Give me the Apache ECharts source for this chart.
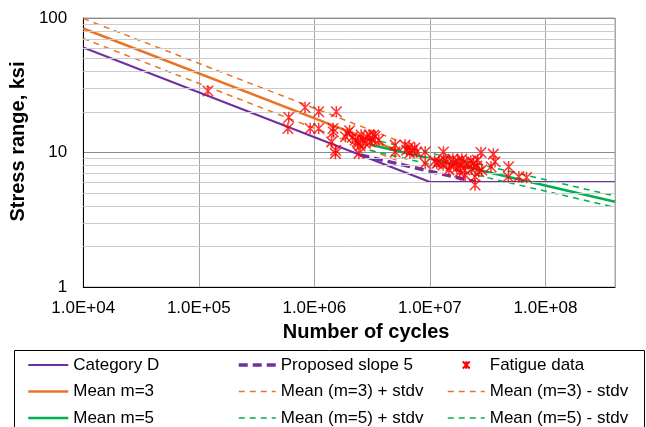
<!DOCTYPE html>
<html>
<head>
<meta charset="utf-8">
<script src="https://cdn.jsdelivr.net/npm/echarts@6/dist/echarts.min.js"></script>
<style>html,body{margin:0;padding:0;background:#fff;}#c{width:646px;height:427px;}</style>
</head>
<body>
<div id="c"></div>
<script>
// ---- data ----
var categoryD = [[1e4, 60.4], [1e7, 6.04], [4e8, 6.04]];
var proposedSlope5 = [[2.5e6, 9.58], [2.5e7, 6.04]];
var meanM3 = [[1e4, 83.6], [5.7e6, 10.06]];
var meanM3Plus = [[1e4, 99.2], [5.7e6, 11.94]];
var meanM3Minus = [[1e4, 70.4], [5.7e6, 8.47]];
var meanM5 = [[3e6, 11.48], [4e8, 4.31]];
var meanM5Plus = [[3e6, 12.65], [4e8, 4.75]];
var meanM5Minus = [[3e6, 10.4], [4e8, 3.91]];
var fatigueN = [1.2e5, 8.3e5, 6.0e5, 1.09e6, 1.55e6, 5.9e5, 9.2e5, 1.09e6, 1.45e6, 1.46e6,
  2.02e6, 1.41e6, 1.53e6, 1.52e6, 1.86e6, 2.13e6, 2.26e6, 2.39e6, 2.49e6, 2.65e6,
  2.86e6, 2.98e6, 3.16e6, 2.43e6, 2.35e6, 2.75e6, 3.36e6, 5.0e6, 5.0e6, 6.1e6,
  6.6e6, 7.0e6, 7.4e6, 6.7e6, 6.3e6, 7.7e6, 9.1e6, 1.31e7, 9.1e6, 1.15e7,
  1.2e7, 1.3e7, 1.4e7, 1.52e7, 1.61e7, 1.74e7, 1.85e7, 1.96e7, 2.13e7, 2.26e7,
  2.39e7, 2.54e7, 1.46e7, 1.71e7, 2.0e7, 2.3e7, 1.35e7, 1.89e7, 2.59e7, 1.58e7,
  1.81e7, 1.1e7, 2.65e7, 2.02e7, 2.46e7, 2.46e7, 2.77e7, 3.54e7, 3.66e7, 3.38e7,
  4.8e7, 4.77e7, 5.89e7, 6.86e7, 2.81e7, 1.93e6, 2.54e6, 3.04e6, 3.61e6, 3.27e6];
var fatigueS = [28.7, 21.6, 18.2, 20.1, 20.1, 15.1, 15.1, 15.1, 15.1, 14.2,
  14.5, 12.0, 10.4, 9.85, 13.1, 13.0, 12.4, 11.7, 11.2, 12.4,
  13.0, 13.5, 12.4, 9.85, 12.0, 11.7, 13.2, 11.35, 10.1, 11.35,
  11.0, 10.4, 10.8, 9.9, 10.4, 10.1, 10.1, 10.1, 8.30, 8.30,
  8.49, 8.06, 8.49, 7.92, 8.34, 8.63, 8.06, 8.49, 8.20, 8.63,
  8.34, 7.92, 7.40, 7.66, 7.40, 7.53, 8.78, 8.93, 8.78, 8.93,
  7.15, 8.63, 7.19, 6.79, 6.60, 5.73, 10.0, 9.73, 8.53, 7.83,
  7.83, 6.60, 6.60, 6.51, 7.40, 13.9, 13.5, 11.95, 12.4, 13.5];
var xTickLabels = ['1.0E+04', '1.0E+05', '1.0E+06', '1.0E+07', '1.0E+08'];
var minorGridValues = [2, 3, 4, 5, 6, 7, 8, 9, 20, 30, 40, 50, 60, 70, 80, 90];

// ---- chart ----
var FONT = 'Liberation Sans, Arial, sans-serif';
var PURPLE = '#7030A0', ORANGE = '#EB7424', GREEN = '#00B050', RED = '#FF0000';
var STAR = 'path://M0,0L0,0M20,20L20,20M5,5L15,15M15,5L5,15M10,4.5L10,15.5';

var fatigue = fatigueN.map(function (n, i) { return [n, fatigueS[i]]; });

function lineSeries(name, data, color, width, type, z) {
  return {
    name: name, type: 'line', data: data, symbol: 'none', showSymbol: false,
    lineStyle: { color: color, width: width, type: type },
    itemStyle: { color: color }, z: z, silent: true
  };
}

var chart = echarts.init(document.getElementById('c'), null, { renderer: 'canvas' });
var legendBase = {
  orient: 'vertical', top: 350, height: 120, itemHeight: 14, itemGap: 6.5, selectedMode: false,
  itemStyle: { opacity: 0 },
  lineStyle: { width: 'inherit' },
  textStyle: { fontSize: 17, lineHeight: 20, fontFamily: FONT, color: '#000' }
};
chart.setOption({
  animation: false,
  grid: { left: 80, right: 31, top: 18, bottom: 140, show: true, borderColor: '#a6a6a6', borderWidth: 1 },
  xAxis: {
    type: 'log', logBase: 10, min: 1e4, max: 4e8, splitNumber: 5,
    name: 'Number of cycles', nameLocation: 'middle', nameGap: 35,
    nameTextStyle: { fontSize: 20, fontWeight: 'bold', fontFamily: FONT, color: '#000', padding: [0, 0, 0, 34] },
    axisLine: { show: true, lineStyle: { color: '#000', width: 1 } },
    axisTick: { show: false },
    axisLabel: {
      fontSize: 17, fontFamily: FONT, color: '#000', margin: 13,
      formatter: function (v) {
        var e = Math.log10(v), r = Math.round(e);
        if (Math.abs(e - r) > 1e-6) return '';
        return xTickLabels[r - 4] || '';
      }
    },
    splitLine: { show: true, lineStyle: { color: '#a6a6a6', width: 1 } }
  },
  yAxis: {
    type: 'log', logBase: 10, min: 1, max: 100,
    name: 'Stress range, ksi', nameLocation: 'middle', nameGap: 45,
    nameTextStyle: { fontSize: 20, fontWeight: 'bold', fontFamily: FONT, color: '#000', padding: [0, 0, 0, 22] },
    axisLine: { show: true, lineStyle: { color: '#000', width: 1 } },
    axisTick: { show: false },
    axisLabel: { fontSize: 17, fontFamily: FONT, color: '#000', margin: 16 },
    splitLine: { show: true, lineStyle: { color: '#8c8c8c', width: 1 } }
  },
  legend: [
    Object.assign({}, legendBase, { left: 22, itemWidth: 40, data: ['Category D', 'Mean m=3', 'Mean m=5'] }),
    Object.assign({}, legendBase, { left: 232, itemWidth: 37, data: ['Proposed slope 5', 'Mean (m=3) + stdv', 'Mean (m=5) + stdv'] }),
    Object.assign({}, legendBase, { left: 442, itemWidth: 37, data: [
      { name: 'Fatigue data', itemStyle: { opacity: 1 } }, 'Mean (m=3) - stdv', 'Mean (m=5) - stdv'] })
  ],
  graphic: [{
    type: 'rect', silent: true,
    shape: { x: 14.5, y: 350.5, width: 630, height: 100 },
    style: { fill: 'none', stroke: '#000', lineWidth: 1 }
  }],
  series: [
    {
      name: 'minor', type: 'line', data: [], z: 1, silent: true,
      markLine: {
        silent: true, symbol: ['none', 'none'], label: { show: false }, animation: false,
        lineStyle: { color: '#cccccc', type: 'solid', width: 1 },
        data: minorGridValues.map(function (v) { return { yAxis: v }; })
      }
    },
    lineSeries('Category D', categoryD, PURPLE, 2, 'solid', 3),
    lineSeries('Mean m=3', meanM3, ORANGE, 2.5, 'solid', 3),
    lineSeries('Mean (m=3) + stdv', meanM3Plus, ORANGE, 1.5, [6, 5], 3),
    lineSeries('Mean (m=3) - stdv', meanM3Minus, ORANGE, 1.5, [6, 5], 3),
    lineSeries('Mean m=5', meanM5, GREEN, 2.5, 'solid', 3),
    lineSeries('Mean (m=5) + stdv', meanM5Plus, GREEN, 1.5, [6, 5], 3),
    lineSeries('Mean (m=5) - stdv', meanM5Minus, GREEN, 1.5, [6, 5], 3),
    lineSeries('Proposed slope 5', proposedSlope5, PURPLE, 3.5, [9, 5], 4),
    {
      name: 'Fatigue data', type: 'scatter', data: fatigue, symbol: STAR, symbolSize: 21, z: 5,
      itemStyle: { color: RED, borderColor: RED, borderWidth: 1.5 }, silent: true
    }
  ]
});
</script>
</body>
</html>
